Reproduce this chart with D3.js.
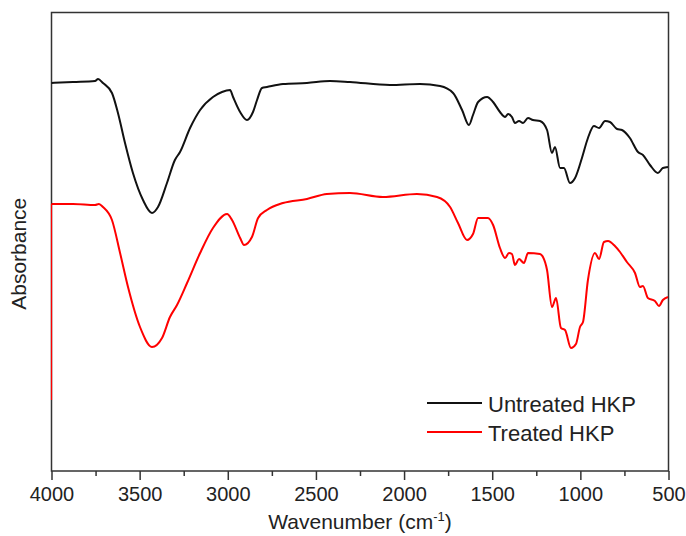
<!DOCTYPE html>
<html><head><meta charset="utf-8">
<script src="https://cdn.jsdelivr.net/npm/d3@7"></script>
<style>body{margin:0;background:#fff}svg{display:block}text{font-family:"Liberation Sans",Arial,sans-serif;fill:#222}</style>
</head><body><svg id="c" width="686" height="536"></svg>
<script>
// Wavenumber (cm^-1) and absorbance (arbitrary units, offset-stacked as in the figure)
const untreatedWn = [4000,3878,3753,3736,3708,3657,3623,3583,3538,3481,3430,3396,3345,3300,3271,3214,3157,3084,3033,2987,2970,2930,2891,2857,2834,2806,2778,2687,2551,2420,2307,2080,1910,1796,1722,1671,1632,1609,1580,1529,1495,1456,1427,1410,1388,1371,1348,1325,1297,1269,1229,1189,1161,1144,1115,1093,1059,1030,991,957,923,894,860,832,792,764,719,673,645,605,560,532,503];
const untreatedAbs = [388,389,390,392,388,378,358,328,298,271,258,264,288,311,319,343,361,374,379,381,374,359,351,359,371,383,384,387,388,390,389,386,387,385,378,361,346,356,369,374,369,359,354,357,354,348,350,348,353,351,350,341,318,324,303,303,288,293,313,333,345,343,350,349,342,341,333,319,316,306,298,303,304];
// the treated trace starts with a vertical lead-in at 4000 cm^-1 (first two points)
const treatedWn = [4000,4000,3878,3753,3731,3708,3657,3611,3566,3498,3430,3373,3328,3288,3231,3157,3084,3004,2976,2930,2908,2863,2828,2778,2687,2551,2438,2307,2120,1927,1813,1739,1694,1643,1609,1580,1524,1495,1456,1427,1405,1388,1371,1348,1320,1297,1229,1212,1189,1161,1138,1110,1087,1053,1025,1002,985,957,917,894,866,843,804,775,736,690,662,645,617,577,554,532,503];
const treatedAbs = [71,267,267,266,267,264,251,218,184,144,124,133,154,166,188,218,243,257,251,233,226,234,253,261,268,272,277,278,274,277,274,264,248,231,237,253,253,246,223,213,218,217,206,212,208,218,217,214,201,164,173,143,141,123,127,144,149,191,218,212,229,230,225,219,209,198,184,185,173,170,165,171,174];
const xTicks = [4000,3500,3000,2500,2000,1500,1000,500];
const xMinorTicks = [3750,3250,2750,2250,1750,1250,750];
const seriesNames = ["Untreated HKP","Treated HKP"];
const seriesColors = ["#111111","#ff0000"];

const L=51.5,R=668.5,T=12.5,B=471;
const svg=d3.select("#c");
const x=d3.scaleLinear().domain([4000,500]).range([L,R]);
const y=d3.scaleLinear().domain([0,458.5]).range([B,T]);

// frame first so the traces sit on top of it (as in the reference)
svg.append("rect").attr("x",L).attr("y",T).attr("width",R-L).attr("height",B-T).attr("fill","none").attr("stroke","#333").attr("stroke-width",1.5);

const smooth=d3.line().x(d=>x(d[0])).y(d=>y(d[1])).curve(d3.curveMonotoneX);
const straight=d3.line().x(d=>x(d[0])).y(d=>y(d[1]));
const U=d3.zip(untreatedWn,untreatedAbs), Tr=d3.zip(treatedWn,treatedAbs);
const g=svg.append("g");
g.append("path").attr("d",smooth(U)).attr("fill","none").attr("stroke",seriesColors[0]).attr("stroke-width",2).attr("stroke-linejoin","round");
g.append("path").attr("d",straight(Tr.slice(0,2))).attr("fill","none").attr("stroke",seriesColors[1]).attr("stroke-width",1.2);
g.append("path").attr("d",smooth(Tr.slice(1))).attr("fill","none").attr("stroke",seriesColors[1]).attr("stroke-width",2).attr("stroke-linejoin","round");

// x axis
const ax=svg.append("g").attr("transform",`translate(0,${B})`)
  .call(d3.axisBottom(x).tickValues(xTicks).tickSize(9).tickPadding(7).tickFormat(d3.format("d")));
ax.select(".domain").remove();
ax.selectAll(".tick line").attr("stroke","#333").attr("stroke-width",1.5);
ax.selectAll(".tick text").attr("font-size",20).attr("fill","#222").attr("font-family","Liberation Sans, Arial, sans-serif");
const axm=svg.append("g").attr("transform",`translate(0,${B})`)
  .call(d3.axisBottom(x).tickValues(xMinorTicks).tickSize(5).tickFormat(""));
axm.select(".domain").remove();
axm.selectAll(".tick line").attr("stroke","#333").attr("stroke-width",1.5);

// axis titles
const xt=svg.append("text").attr("x",(L+R)/2).attr("y",529).attr("text-anchor","middle").attr("font-size",21);
xt.append("tspan").text("Wavenumber (cm");
xt.append("tspan").attr("dy",-8).attr("font-size",13).text("-1");
xt.append("tspan").attr("dy",8).text(")");
svg.append("text").attr("transform",`translate(26,${(T+B)/2+12}) rotate(-90)`).attr("text-anchor","middle").attr("font-size",21).text("Absorbance");

// legend
const lg=svg.append("g");
seriesNames.forEach((n,i)=>{
  const yy=403+i*29;
  lg.append("line").attr("x1",427).attr("x2",482).attr("y1",yy).attr("y2",yy).attr("stroke",seriesColors[i]).attr("stroke-width",2);
  lg.append("text").attr("x",488).attr("y",yy+9).attr("font-size",22).text(n);
});
</script></body></html>
